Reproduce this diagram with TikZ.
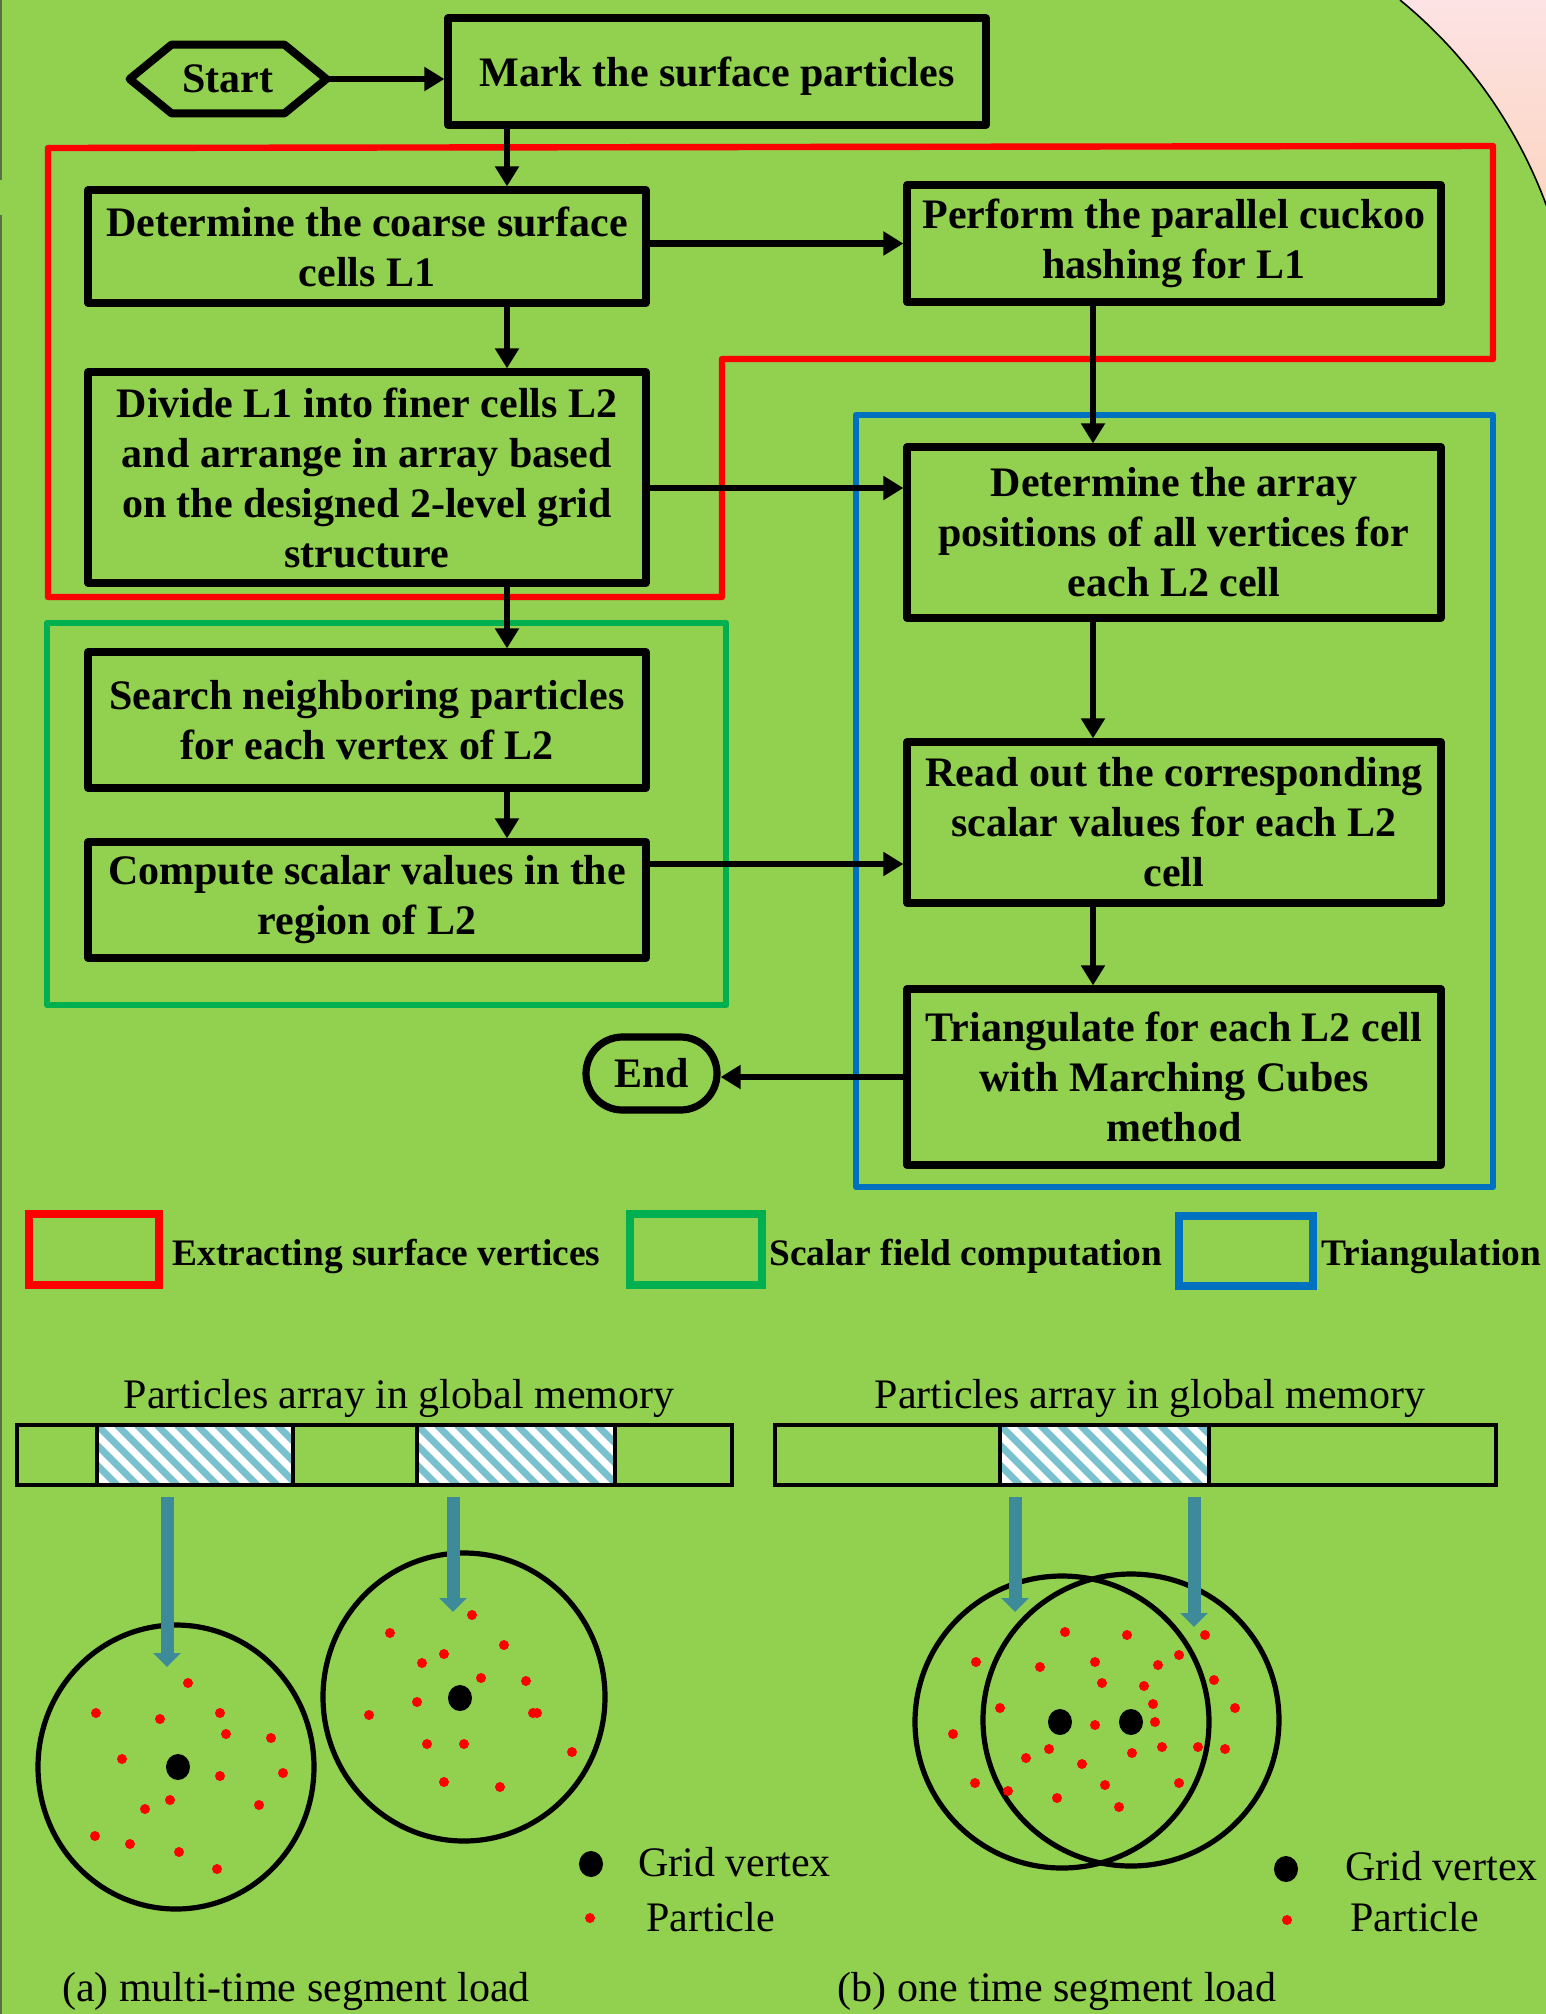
\documentclass[tikz,border=0pt]{standalone}
\usepackage{fontspec}
\setmainfont{Liberation Serif}
\usetikzlibrary{arrows.meta}
\usetikzlibrary{shapes.misc}

\definecolor{leaf}{HTML}{92D050}
\definecolor{blush}{HTML}{FDE3E4}
\definecolor{peach}{HTML}{FBD5C1}
\definecolor{edgegray}{HTML}{5B7045}
\definecolor{grpred}{HTML}{FF0000}
\definecolor{grpgreen}{HTML}{00B050}
\definecolor{grpblue}{HTML}{0070C0}
\definecolor{loadteal}{RGB}{61,139,153}
\definecolor{hatch}{RGB}{122,193,207}

\begin{document}
\begin{tikzpicture}[x=0.5pt,y=-0.5pt,
    box/.style={draw, line width=3.6pt, line join=round, align=center, inner sep=3pt,
        font=\fontsize{21}{25}\selectfont\bfseries},
    arr/.style={line width=3.2pt, -{Triangle[length=10pt,width=11.5pt]}},
    group/.style={line width=3.2pt, line join=round},
    key/.style={line width=4pt},
    keytext/.style={anchor=base west, inner sep=0pt, font=\fontsize{18.7}{22}\selectfont\bfseries},
    plain/.style={inner sep=0pt, font=\fontsize{21}{25}\selectfont},
    ring/.style={line width=2.6pt},
    load/.style={draw=loadteal, line width=6.5pt, -{Triangle[length=7pt,width=13.5pt]}},
    cell/.style={line width=2pt},
    hatchline/.style={draw=hatch, line width=3.5pt}]

    % background and corner
    \useasboundingbox (0,0) rectangle (1546,2014);
    \fill[leaf] (0,0) rectangle (1546,2014);
    \fill[top color=blush, bottom color=peach] (1400,0) arc[start angle=-50.7, end angle=-20.25, radius=480] -- (1546,0) -- cycle;
    \draw[line width=0.8pt] (1400,0) arc[start angle=-50.7, end angle=-20.25, radius=480];
    \draw[edgegray, line width=0.8pt] (1,0) -- (1,180) (1,215) -- (1,2014);

    % groups
    \draw[group, grpred] (48,148) -- (1493,146) -- (1493,359) -- (722,359) -- (722,597) -- (48,597) -- cycle;
    \draw[group, grpgreen] (47,623) rectangle (726,1005);
    \draw[group, grpblue] (856,415) rectangle (1493,1187);

    % flow chart
    \node[inner sep=0pt, minimum width=98pt, minimum height=34pt,
        font=\fontsize{21}{25}\selectfont\bfseries] (start) at (228,79) {Start};
    \draw[line width=4pt, line join=round] (start.west) -- ([xshift=21pt]start.north west)
        -- ([xshift=-21pt]start.north east) -- (start.east)
        -- ([xshift=-21pt]start.south east) -- ([xshift=21pt]start.south west) -- cycle;
    \node[box, text depth=0pt, minimum width=269pt, minimum height=53.5pt] (mark) at (717,71.5) {Mark the surface particles};
    \node[box, minimum width=279pt, minimum height=56.5pt] (coarse) at (367,246.5) {Determine the coarse surface\\cells L1};
    \node[box, minimum width=267pt, minimum height=58.5pt] (hash) at (1174,243.5) {Perform the parallel cuckoo\\hashing for L1};
    \node[box, minimum width=279pt, minimum height=105.5pt] (divide) at (367,477.5) {Divide L1 into finer cells L2\\and arrange in array based\\on the designed 2-level grid\\structure};
    \node[box, minimum width=279pt, minimum height=68pt] (search) at (367,720) {Search neighboring particles\\for each vertex of L2};
    \node[box, minimum width=279pt, minimum height=58pt] (compute) at (367,900) {Compute scalar values in the\\region of L2};
    \node[box, minimum width=267pt, minimum height=85.5pt] (arrpos) at (1174,532.5) {Determine the array\\positions of all vertices for\\each L2 cell};
    \node[box, minimum width=267pt, minimum height=80.5pt] (readout) at (1174,822.5) {Read out the corresponding\\scalar values for each L2\\cell};
    \node[box, minimum width=267pt, minimum height=88pt] (tri) at (1174,1077) {Triangulate for each L2 cell\\with Marching Cubes\\method};
    \node[box, rounded rectangle, minimum width=71.5pt, minimum height=36.5pt] (finish) at (651.5,1073.5) {End};

    \coordinate (lx) at (507,0);
    \coordinate (rx) at (1093,0);
    \coordinate (ya) at (0,488);
    \coordinate (yb) at (0,864);

    \draw[arr] (start.east) -- (start.east -| mark.west);
    \draw[arr] (mark.south -| lx) -- (coarse.north -| lx);
    \draw[arr] (coarse.east |- hash) -- (hash.west);
    \draw[arr] (coarse.south -| lx) -- (divide.north -| lx);
    \draw[arr] (divide.east |- ya) -- (arrpos.west |- ya);
    \draw[arr] (divide.south -| lx) -- (search.north -| lx);
    \draw[arr] (search.south -| lx) -- (compute.north -| lx);
    \draw[arr] (compute.east |- yb) -- (readout.west |- yb);
    \draw[arr] (hash.south -| rx) -- (arrpos.north -| rx);
    \draw[arr] (arrpos.south -| rx) -- (readout.north -| rx);
    \draw[arr] (readout.south -| rx) -- (tri.north -| rx);
    \draw[arr] (tri.west) -- (tri.west -| finish.east);

    % legend
    \draw[key, grpred] (29,1214) rectangle (159,1285);
    \node[keytext] (keyred) at (172,1265) {Extracting surface vertices};
    \draw[key, grpgreen] (630,1214) rectangle (762,1285);
    \node[keytext] (keygreen) at (769,1265) {Scalar field computation};
    \draw[key, grpblue] (1179,1216) rectangle (1313,1286);
    \node[keytext] (keyblue) at (1321,1265) {Triangulation};

    % memory bars
    \foreach \a/\b in {97/293, 417/615, 1000/1209}{
        \fill[white] (\a,1425) rectangle (\b,1485);
        \begin{scope}
            \clip (\a,1425) rectangle (\b,1485);
            \foreach \k in {0,...,14}{
                \draw[hatchline] (\a-60+\k*20,1425) -- ++(60,60);
            }
        \end{scope}
    }
    \draw[cell] (17,1425) rectangle (732,1485);
    \foreach \x in {97,293,417,615}{
        \draw[cell] (\x,1425) -- (\x,1485);
    }
    \draw[cell] (775,1425) rectangle (1496,1485);
    \foreach \x in {1000,1209}{
        \draw[cell] (\x,1425) -- (\x,1485);
    }
    \node[plain, anchor=base] (titlea) at (399,1408) {Particles array in global memory};
    \node[plain, anchor=base] (titleb) at (1150,1408) {Particles array in global memory};

    % loads
    \coordinate (srca) at (167,1497); \coordinate (dsta) at (167,1667);
    \coordinate (srcb) at (453,1497); \coordinate (dstb) at (453,1612);
    \coordinate (srcc) at (1015,1497); \coordinate (dstc) at (1015,1612);
    \coordinate (srcd) at (1194,1497); \coordinate (dstd) at (1194,1627);

    % circles
    \draw[ring] (176,1767) ellipse[x radius=138, y radius=142];
    \draw[ring] (464,1697) ellipse[x radius=141, y radius=144];
    \draw[ring] (1062,1722) ellipse[x radius=147, y radius=146];
    \draw[ring] (1131,1720) ellipse[x radius=148, y radius=146];

    \draw[load] (srca) -- (dsta);
    \draw[load] (srcb) -- (dstb);
    \draw[load] (srcc) -- (dstc);
    \draw[load] (srcd) -- (dstd);

    \foreach \x/\y in {188/1683,96/1713,160/1719,220/1713,226/1734,271/1738,122/1759,220/1776,
        283/1773,170/1800,145/1809,259/1805,95/1836,130/1844,179/1852,217/1869}{
        \fill[red] (\x,\y) circle[radius=5];
    }
    \foreach \x/\y in {472/1615,390/1633,504/1645,444/1654,422/1663,481/1678,526/1681,417/1702,
        369/1715,533/1713,537/1713,427/1744,464/1744,572/1752,444/1782,500/1787}{
        \fill[red] (\x,\y) circle[radius=5];
    }
    \foreach \x/\y in {1065/1632,1127/1635,1205/1635,976/1662,1040/1667,1095/1662,1158/1665,
        1179/1655,1102/1683,1144/1686,1214/1680,1000/1708,1153/1704,1235/1708,953/1734,
        1095/1725,1155/1722,1049/1749,1026/1758,1132/1753,1162/1747,1198/1747,1225/1749,
        1082/1764,975/1783,1008/1791,1105/1785,1179/1783,1057/1798,1119/1807}{
        \fill[red] (\x,\y) circle[radius=5];
    }
    \foreach \x/\y in {178/1767,460/1698,1060/1722,1131/1722}{
        \fill (\x,\y) ellipse[x radius=12, y radius=13];
    }

    % point keys
    \fill (591,1864) ellipse[x radius=12, y radius=13];
    \fill[red] (590,1918) circle[radius=5];
    \node[plain, anchor=base west] (gva) at (638,1876) {Grid vertex};
    \node[plain, anchor=base west] (pta) at (646,1931) {Particle};
    \fill (1286,1869) ellipse[x radius=12, y radius=13];
    \fill[red] (1287,1920) circle[radius=5];
    \node[plain, anchor=base west] (gvb) at (1345,1880) {Grid vertex};
    \node[plain, anchor=base west] (ptb) at (1350,1931) {Particle};

    \node[plain, anchor=base] (capa) at (296,2001) {(a) multi-time segment load};
    \node[plain, anchor=base] (capb) at (1057,2001) {(b) one time segment load};
\end{tikzpicture}
\end{document}
